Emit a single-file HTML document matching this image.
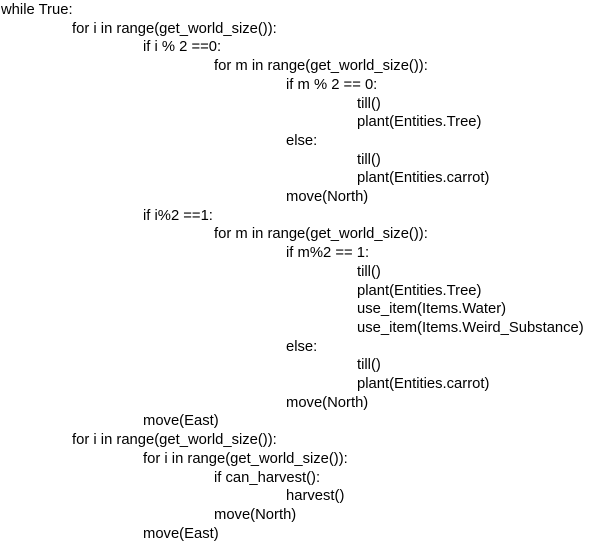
<!DOCTYPE html>
<html><head><style>
html,body{margin:0;padding:0;background:#fff;width:600px;height:551px;overflow:hidden}
div{position:absolute;font-family:"Liberation Sans","Noto Sans CJK SC",sans-serif;font-size:14.8px;color:#000;white-space:pre;line-height:18px;margin-top:1px}
</style></head><body>
<div style="left:1px;top:0px">while True:</div>
<div style="left:72px;top:18.7px">for i in range(get_world_size()):</div>
<div style="left:143px;top:37.4px">if i % 2 ==0:</div>
<div style="left:214px;top:56.1px">for m in range(get_world_size()):</div>
<div style="left:286px;top:74.8px">if m % 2 == 0:</div>
<div style="left:357px;top:93.5px">till()</div>
<div style="left:357px;top:112.2px">plant(Entities.Tree)</div>
<div style="left:286px;top:130.9px">else:</div>
<div style="left:357px;top:149.6px">till()</div>
<div style="left:357px;top:168.3px">plant(Entities.carrot)</div>
<div style="left:286px;top:187px">move(North)</div>
<div style="left:143px;top:205.7px">if i%2 ==1:</div>
<div style="left:214px;top:224.4px">for m in range(get_world_size()):</div>
<div style="left:286px;top:243.1px">if m%2 == 1:</div>
<div style="left:357px;top:261.8px">till()</div>
<div style="left:357px;top:280.5px">plant(Entities.Tree)</div>
<div style="left:357px;top:299.2px">use_item(Items.Water)</div>
<div style="left:357px;top:317.9px">use_item(Items.Weird_Substance)</div>
<div style="left:286px;top:336.6px">else:</div>
<div style="left:357px;top:355.3px">till()</div>
<div style="left:357px;top:374px">plant(Entities.carrot)</div>
<div style="left:286px;top:392.7px">move(North)</div>
<div style="left:143px;top:411.4px">move(East)</div>
<div style="left:72px;top:430.1px">for i in range(get_world_size()):</div>
<div style="left:143px;top:448.8px">for i in range(get_world_size()):</div>
<div style="left:214px;top:467.5px">if can_harvest():</div>
<div style="left:286px;top:486.2px">harvest()</div>
<div style="left:214px;top:504.9px">move(North)</div>
<div style="left:143px;top:523.6px">move(East)</div>
</body></html>
